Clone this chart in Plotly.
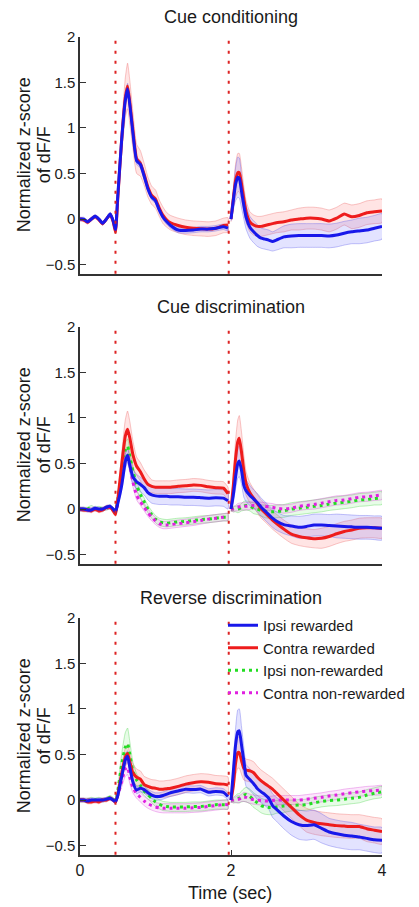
import plotly.graph_objects as go

# ---------------- data ----------------
T1 = [0.0, 0.05, 0.10, 0.15, 0.20, 0.25, 0.30, 0.35, 0.40, 0.44, 0.47, 0.50, 0.55, 0.60, 0.63, 0.66, 0.70,
      0.75, 0.80, 0.85, 0.90, 0.95, 1.00, 1.05, 1.10, 1.15, 1.20, 1.30, 1.40, 1.50, 1.60, 1.70, 1.80, 1.90, 1.96]
T2 = [2.00, 2.03, 2.06, 2.09, 2.11, 2.14, 2.17, 2.20, 2.25, 2.30, 2.35, 2.40, 2.45, 2.50, 2.55, 2.60, 2.70,
      2.80, 2.90, 3.00, 3.10, 3.20, 3.30, 3.40, 3.50, 3.60, 3.70, 3.80, 3.90, 4.00]

cue_times = [0.47, 1.97]
y_tickvals = [-0.5, 0, 0.5, 1, 1.5, 2]
y_ticktext = ["\u22120.5", "0", "0.5", "1", "1.5", "2"]
x_tickvals = [0, 2, 4]
x_ticktext = ["0", "2", "4"]
panel_titles = ["Cue conditioning", "Cue discrimination", "Reverse discrimination"]
series_names = ["Ipsi rewarded", "Contra rewarded", "Ipsi non-rewarded", "Contra non-rewarded"]

# Panel 1: Cue conditioning
cc_ipsi_rew = [0.0, 0.0, -0.03, 0.0, 0.03, 0.0, -0.045, 0.0, 0.055, -0.02, -0.12, 0.25, 0.85, 1.30, 1.43, 1.25, 0.95,
               0.64, 0.60, 0.47, 0.33, 0.24, 0.20, 0.10, 0.02, -0.03, -0.07, -0.12, -0.125, -0.12, -0.11, -0.11, -0.10, -0.085, -0.10,
               0.0, 0.2, 0.38, 0.46, 0.45, 0.30, 0.15, 0.02, -0.09, -0.14, -0.18, -0.21, -0.22, -0.23, -0.245, -0.23, -0.195,
               -0.185, -0.18, -0.18, -0.18, -0.18, -0.185, -0.175, -0.155, -0.14, -0.13, -0.12, -0.10, -0.08]
cc_ipsi_rew_sem = [0.02, 0.02, 0.02, 0.02, 0.02, 0.02, 0.02, 0.02, 0.02, 0.02, 0.02, 0.03, 0.05, 0.06, 0.06, 0.06, 0.05,
                   0.04, 0.04, 0.04, 0.03, 0.03, 0.03, 0.03, 0.03, 0.03, 0.03, 0.03, 0.03, 0.03, 0.03, 0.03, 0.03, 0.03, 0.03,
                   0.02, 0.10, 0.18, 0.22, 0.22, 0.18, 0.15, 0.13, 0.12, 0.12, 0.12, 0.11, 0.11, 0.11, 0.105, 0.11, 0.12,
                   0.13, 0.13, 0.13, 0.13, 0.13, 0.13, 0.13, 0.13, 0.13, 0.14, 0.14, 0.14, 0.14]
cc_contra_rew = [0.0, -0.01, -0.035, 0.0, 0.025, -0.005, -0.05, 0.0, 0.05, -0.03, -0.14, 0.22, 0.85, 1.33, 1.46, 1.28, 0.98,
                 0.66, 0.61, 0.49, 0.35, 0.26, 0.22, 0.12, 0.04, -0.01, -0.04, -0.07, -0.09, -0.10, -0.105, -0.11, -0.10, -0.07, -0.065,
                 0.0, 0.22, 0.42, 0.51, 0.51, 0.38, 0.22, 0.08, -0.03, -0.065, -0.08, -0.08, -0.07, -0.06, -0.05, -0.04, -0.03,
                 -0.01, 0.0, 0.01, 0.01, 0.0, -0.02, 0.01, 0.055, 0.025, 0.04, 0.07, 0.08, 0.09]
cc_contra_rew_sem = [0.02, 0.02, 0.02, 0.02, 0.02, 0.02, 0.02, 0.02, 0.02, 0.02, 0.02, 0.06, 0.15, 0.22, 0.25, 0.24, 0.20,
                     0.16, 0.14, 0.12, 0.11, 0.10, 0.10, 0.09, 0.09, 0.08, 0.08, 0.08, 0.08, 0.08, 0.08, 0.08, 0.08, 0.08, 0.08,
                     0.03, 0.10, 0.18, 0.21, 0.21, 0.18, 0.14, 0.12, 0.11, 0.11, 0.11, 0.11, 0.11, 0.11, 0.11, 0.11, 0.11,
                     0.11, 0.12, 0.12, 0.12, 0.12, 0.12, 0.12, 0.12, 0.13, 0.13, 0.13, 0.13, 0.13]

# Panel 2: Cue discrimination
cd_ipsi_rew = [0.0, 0.0, -0.01, -0.01, 0.01, 0.0, 0.0, 0.02, 0.03, 0.0, -0.03, 0.06, 0.25, 0.52, 0.59, 0.48, 0.355,
               0.30, 0.27, 0.235, 0.18, 0.155, 0.145, 0.14, 0.14, 0.14, 0.135, 0.135, 0.13, 0.13, 0.125, 0.12, 0.125, 0.12, 0.09,
               0.0, 0.15, 0.35, 0.50, 0.527, 0.42, 0.26, 0.20, 0.15, 0.11, 0.07, 0.02, -0.02, -0.06, -0.10, -0.13, -0.17,
               -0.185, -0.20, -0.19, -0.175, -0.175, -0.18, -0.185, -0.19, -0.195, -0.20, -0.20, -0.205, -0.21]
cd_ipsi_rew_sem = [0.02, 0.02, 0.02, 0.02, 0.02, 0.02, 0.02, 0.02, 0.02, 0.02, 0.02, 0.03, 0.05, 0.08, 0.08, 0.08, 0.08,
                   0.08, 0.08, 0.08, 0.08, 0.09, 0.09, 0.09, 0.09, 0.09, 0.09, 0.09, 0.09, 0.09, 0.09, 0.09, 0.09, 0.09, 0.09,
                   0.02, 0.08, 0.13, 0.16, 0.17, 0.15, 0.13, 0.12, 0.11, 0.10, 0.10, 0.10, 0.10, 0.10, 0.10, 0.10, 0.10,
                   0.11, 0.12, 0.12, 0.12, 0.12, 0.12, 0.13, 0.13, 0.13, 0.13, 0.13, 0.13, 0.13]
cd_contra_rew = [0.0, -0.01, -0.01, -0.02, 0.0, -0.02, -0.01, 0.02, 0.02, -0.02, -0.06, 0.10, 0.47, 0.80, 0.875, 0.78, 0.60,
                 0.47, 0.41, 0.33, 0.27, 0.25, 0.24, 0.24, 0.24, 0.24, 0.24, 0.25, 0.255, 0.265, 0.26, 0.245, 0.235, 0.23, 0.17,
                 0.0, 0.25, 0.55, 0.74, 0.776, 0.62, 0.42, 0.28, 0.18, 0.12, 0.06, 0.0, -0.04, -0.08, -0.12, -0.155, -0.22,
                 -0.275, -0.30, -0.315, -0.325, -0.32, -0.30, -0.27, -0.245, -0.23, -0.21, -0.205, -0.205, -0.21]
cd_contra_rew_sem = [0.02, 0.02, 0.02, 0.02, 0.02, 0.02, 0.02, 0.02, 0.02, 0.02, 0.02, 0.05, 0.12, 0.18, 0.20, 0.18, 0.15,
                     0.10, 0.10, 0.10, 0.10, 0.07, 0.07, 0.07, 0.07, 0.07, 0.07, 0.07, 0.07, 0.07, 0.07, 0.07, 0.07, 0.07, 0.07,
                     0.03, 0.12, 0.20, 0.24, 0.25, 0.22, 0.17, 0.13, 0.11, 0.10, 0.10, 0.10, 0.10, 0.10, 0.10, 0.10, 0.10,
                     0.10, 0.10, 0.10, 0.10, 0.11, 0.11, 0.11, 0.11, 0.11, 0.11, 0.11, 0.11, 0.11]
cd_ipsi_nonrew = [0.0, 0.0, 0.0, 0.02, 0.0, 0.01, 0.0, 0.01, 0.02, 0.0, -0.02, 0.10, 0.40, 0.65, 0.69, 0.58, 0.42,
                  0.26, 0.16, 0.08, 0.0, -0.06, -0.11, -0.14, -0.15, -0.155, -0.15, -0.14, -0.135, -0.125, -0.115, -0.11, -0.10, -0.09, -0.09,
                  0.0, 0.0, 0.0, 0.0, 0.005, 0.02, 0.035, 0.04, 0.03, 0.01, 0.0, -0.015, -0.025, -0.03, -0.03, -0.025, -0.02,
                  0.0, 0.01, 0.02, 0.03, 0.04, 0.055, 0.065, 0.075, 0.085, 0.10, 0.105, 0.115, 0.12]
cd_ipsi_nonrew_sem = [0.02, 0.02, 0.02, 0.02, 0.02, 0.02, 0.02, 0.02, 0.02, 0.02, 0.02, 0.03, 0.06, 0.08, 0.08, 0.07, 0.06,
                      0.05, 0.04, 0.04, 0.04, 0.04, 0.04, 0.04, 0.04, 0.04, 0.04, 0.04, 0.04, 0.04, 0.04, 0.04, 0.04, 0.04, 0.04,
                      0.02, 0.03, 0.03, 0.04, 0.04, 0.04, 0.05, 0.05, 0.05, 0.06, 0.06, 0.06, 0.07, 0.07, 0.07, 0.07, 0.07,
                      0.07, 0.07, 0.07, 0.07, 0.07, 0.07, 0.07, 0.07, 0.07, 0.07, 0.07, 0.07, 0.07]
cd_contra_nonrew = [0.0, 0.0, -0.01, 0.0, 0.0, -0.01, 0.0, 0.01, 0.02, 0.0, -0.03, 0.08, 0.32, 0.55, 0.60, 0.48, 0.30,
                    0.15, 0.08, 0.02, -0.04, -0.09, -0.13, -0.16, -0.175, -0.175, -0.17, -0.16, -0.15, -0.14, -0.125, -0.11, -0.10, -0.09, -0.085,
                    0.0, 0.0, 0.01, 0.02, 0.025, 0.03, 0.03, 0.03, 0.035, 0.04, 0.04, 0.035, 0.03, 0.025, 0.02, 0.01, 0.0,
                    0.01, 0.03, 0.04, 0.05, 0.065, 0.08, 0.095, 0.10, 0.115, 0.13, 0.135, 0.145, 0.155]
cd_contra_nonrew_sem = [0.02, 0.02, 0.02, 0.02, 0.02, 0.02, 0.02, 0.02, 0.02, 0.02, 0.02, 0.03, 0.05, 0.07, 0.07, 0.06, 0.05,
                        0.05, 0.04, 0.04, 0.04, 0.04, 0.04, 0.04, 0.04, 0.04, 0.04, 0.04, 0.04, 0.04, 0.04, 0.04, 0.04, 0.04, 0.04,
                        0.02, 0.03, 0.03, 0.04, 0.04, 0.04, 0.04, 0.04, 0.04, 0.04, 0.04, 0.04, 0.04, 0.04, 0.04, 0.04, 0.045,
                        0.045, 0.045, 0.045, 0.05, 0.05, 0.05, 0.05, 0.05, 0.05, 0.05, 0.05, 0.05, 0.05]

# Panel 3: Reverse discrimination
rd_ipsi_rew = [0.0, 0.0, -0.01, 0.0, 0.0, 0.0, 0.0, 0.01, 0.02, 0.0, -0.02, 0.05, 0.25, 0.44, 0.48, 0.36, 0.20,
               0.11, 0.13, 0.115, 0.08, 0.055, 0.04, 0.04, 0.05, 0.065, 0.08, 0.10, 0.12, 0.115, 0.12, 0.085, 0.095, 0.085, 0.04,
               0.0, 0.30, 0.60, 0.75, 0.76, 0.60, 0.43, 0.27, 0.225, 0.18, 0.125, 0.09, 0.06, 0.02, -0.06, -0.10, -0.175,
               -0.235, -0.27, -0.28, -0.27, -0.31, -0.35, -0.37, -0.385, -0.395, -0.405, -0.42, -0.435, -0.44]
rd_ipsi_rew_sem = [0.02, 0.02, 0.02, 0.02, 0.02, 0.02, 0.02, 0.02, 0.02, 0.02, 0.02, 0.03, 0.05, 0.06, 0.06, 0.05, 0.04,
                   0.04, 0.04, 0.04, 0.04, 0.04, 0.04, 0.04, 0.04, 0.04, 0.04, 0.04, 0.04, 0.04, 0.04, 0.04, 0.04, 0.04, 0.04,
                   0.03, 0.10, 0.18, 0.24, 0.24, 0.20, 0.15, 0.12, 0.12, 0.12, 0.12, 0.12, 0.12, 0.12, 0.13, 0.13, 0.14,
                   0.15, 0.16, 0.16, 0.16, 0.16, 0.15, 0.15, 0.15, 0.15, 0.14, 0.14, 0.14, 0.14]
rd_contra_rew = [0.0, 0.0, -0.02, -0.02, -0.01, -0.02, 0.0, 0.0, 0.02, 0.0, -0.02, 0.06, 0.28, 0.47, 0.51, 0.42, 0.30,
                 0.25, 0.23, 0.17, 0.15, 0.135, 0.13, 0.12, 0.12, 0.125, 0.13, 0.15, 0.175, 0.19, 0.20, 0.195, 0.18, 0.175, 0.165,
                 0.0, 0.15, 0.40, 0.52, 0.52, 0.43, 0.35, 0.33, 0.32, 0.30, 0.25, 0.21, 0.18, 0.15, 0.12, 0.08, 0.0,
                 -0.08, -0.16, -0.22, -0.245, -0.26, -0.27, -0.28, -0.285, -0.29, -0.29, -0.315, -0.33, -0.345]
rd_contra_rew_sem = [0.02, 0.02, 0.02, 0.02, 0.02, 0.02, 0.02, 0.02, 0.02, 0.02, 0.02, 0.04, 0.08, 0.10, 0.10, 0.10, 0.10,
                     0.09, 0.09, 0.09, 0.09, 0.09, 0.09, 0.09, 0.09, 0.09, 0.09, 0.09, 0.09, 0.09, 0.09, 0.09, 0.09, 0.09, 0.09,
                     0.03, 0.08, 0.14, 0.17, 0.17, 0.15, 0.13, 0.12, 0.12, 0.12, 0.12, 0.12, 0.12, 0.12, 0.12, 0.12, 0.12,
                     0.12, 0.12, 0.13, 0.13, 0.13, 0.13, 0.13, 0.13, 0.13, 0.13, 0.14, 0.14, 0.14]
rd_ipsi_nonrew = [0.0, 0.0, 0.0, 0.01, 0.0, 0.01, 0.0, 0.01, 0.03, 0.01, -0.01, 0.10, 0.38, 0.58, 0.62, 0.50, 0.32,
                  0.22, 0.16, 0.10, 0.06, 0.02, -0.02, -0.045, -0.065, -0.07, -0.075, -0.075, -0.075, -0.07, -0.07, -0.06, -0.05, -0.05, -0.05,
                  0.0, 0.0, 0.01, 0.02, 0.02, 0.04, 0.055, 0.06, 0.04, 0.0, -0.03, -0.06, -0.075, -0.08, -0.08, -0.075, -0.065,
                  -0.06, -0.055, -0.05, -0.03, -0.015, -0.005, 0.0, 0.01, 0.02, 0.03, 0.055, 0.075, 0.09]
rd_ipsi_nonrew_sem = [0.02, 0.02, 0.02, 0.02, 0.02, 0.02, 0.02, 0.02, 0.02, 0.02, 0.02, 0.04, 0.12, 0.16, 0.17, 0.14, 0.10,
                      0.07, 0.06, 0.05, 0.05, 0.05, 0.05, 0.05, 0.05, 0.05, 0.05, 0.05, 0.05, 0.05, 0.05, 0.05, 0.05, 0.05, 0.05,
                      0.02, 0.03, 0.04, 0.05, 0.05, 0.06, 0.07, 0.08, 0.08, 0.08, 0.08, 0.08, 0.08, 0.08, 0.08, 0.07, 0.07,
                      0.06, 0.06, 0.06, 0.06, 0.06, 0.06, 0.06, 0.06, 0.06, 0.06, 0.06, 0.06, 0.06]
rd_contra_nonrew = [0.0, 0.0, 0.0, 0.0, -0.01, 0.0, 0.0, 0.01, 0.02, 0.0, -0.02, 0.05, 0.20, 0.34, 0.36, 0.25, 0.14,
                    0.07, 0.03, -0.01, -0.04, -0.06, -0.075, -0.085, -0.09, -0.09, -0.09, -0.09, -0.09, -0.085, -0.08, -0.07, -0.06, -0.05, -0.05,
                    0.0, 0.0, 0.005, 0.01, 0.01, 0.025, 0.035, 0.03, 0.015, 0.005, 0.0, -0.005, -0.01, -0.01, -0.005, 0.0, 0.0,
                    0.0, 0.0, 0.01, 0.02, 0.03, 0.045, 0.055, 0.07, 0.08, 0.09, 0.10, 0.105, 0.11]
rd_contra_nonrew_sem = [0.02, 0.02, 0.02, 0.02, 0.02, 0.02, 0.02, 0.02, 0.02, 0.02, 0.02, 0.03, 0.06, 0.08, 0.08, 0.07, 0.06,
                        0.05, 0.05, 0.05, 0.05, 0.05, 0.05, 0.05, 0.05, 0.05, 0.05, 0.05, 0.05, 0.05, 0.05, 0.05, 0.05, 0.05, 0.05,
                        0.02, 0.03, 0.03, 0.04, 0.04, 0.04, 0.05, 0.05, 0.05, 0.05, 0.05, 0.05, 0.05, 0.05, 0.05, 0.05, 0.05,
                        0.05, 0.05, 0.05, 0.05, 0.05, 0.05, 0.05, 0.05, 0.05, 0.05, 0.05, 0.05, 0.05]

# ---------------- layout constants ----------------
FONT = "Liberation Sans, Arial, Helvetica, sans-serif"
TXT = "#1a1a1a"
W, H = 419, 907
ML, MR = 80, 37
PW = W - ML - MR
panel_px = [(36.7, 273.8), (326.7, 563.8), (617.7, 854.8)]

styles = {
    "Ipsi rewarded": dict(color="#1818ea", dash="solid", width=3,
                          band="rgba(80,80,255,0.16)", edge="rgba(90,90,235,0.45)"),
    "Contra rewarded": dict(color="#ee1c1c", dash="solid", width=3,
                            band="rgba(255,90,90,0.16)", edge="rgba(235,100,100,0.45)"),
    "Ipsi non-rewarded": dict(color="#22dd22", dash="3px,4px", width=3,
                              band="rgba(70,230,70,0.13)", edge="rgba(70,210,70,0.45)"),
    "Contra non-rewarded": dict(color="#e020e0", dash="3px,4px", width=3,
                                band="rgba(235,70,235,0.13)", edge="rgba(215,70,215,0.45)"),
}

panels = [
    [("Contra rewarded", cc_contra_rew, cc_contra_rew_sem),
     ("Ipsi rewarded", cc_ipsi_rew, cc_ipsi_rew_sem)],
    [("Ipsi non-rewarded", cd_ipsi_nonrew, cd_ipsi_nonrew_sem),
     ("Contra non-rewarded", cd_contra_nonrew, cd_contra_nonrew_sem),
     ("Contra rewarded", cd_contra_rew, cd_contra_rew_sem),
     ("Ipsi rewarded", cd_ipsi_rew, cd_ipsi_rew_sem)],
    [("Ipsi non-rewarded", rd_ipsi_nonrew, rd_ipsi_nonrew_sem),
     ("Contra non-rewarded", rd_contra_nonrew, rd_contra_nonrew_sem),
     ("Contra rewarded", rd_contra_rew, rd_contra_rew_sem),
     ("Ipsi rewarded", rd_ipsi_rew, rd_ipsi_rew_sem)],
]

n1 = len(T1)
for p in panels:
    for name, m, s in p:
        assert len(m) == n1 + len(T2), (name, len(m))
        assert len(s) == n1 + len(T2), (name, "sem", len(s))

X_LINE = T1 + [None] + T2


def line_y(vals):
    return vals[:n1] + [None] + vals[n1:]


def band_xy(m, s):
    xs, ys = [], []
    for T, mm, ss in ((T1, m[:n1], s[:n1]), (T2, m[n1:], s[n1:])):
        if xs:
            xs.append(None)
            ys.append(None)
        up = [a + b for a, b in zip(mm, ss)]
        lo = [a - b for a, b in zip(mm, ss)]
        xs += T + T[::-1]
        ys += up + lo[::-1]
    return xs, ys


fig = go.Figure()
for pi, p in enumerate(panels):
    xa = "x" if pi == 0 else f"x{pi + 1}"
    ya = "y" if pi == 0 else f"y{pi + 1}"
    for name, m, s in p:
        st = styles[name]
        bx, by = band_xy(m, s)
        fig.add_trace(go.Scatter(x=bx, y=by, xaxis=xa, yaxis=ya, mode="lines", fill="toself",
                                 fillcolor=st["band"], line=dict(color=st["edge"], width=0.8, shape="spline", smoothing=0.5),
                                 showlegend=False, hoverinfo="skip"))
    for name, m, s in p:
        st = styles[name]
        fig.add_trace(go.Scatter(x=X_LINE, y=line_y(m), xaxis=xa, yaxis=ya, mode="lines", name=name,
                                 line=dict(color=st["color"], width=st["width"], dash=st["dash"],
                                           shape="spline", smoothing=0.5),
                                 showlegend=(pi == 2), legendrank=series_names.index(name) + 1))

layout = dict(
    width=W, height=H, autosize=False,
    margin=dict(l=ML, r=MR, t=0, b=0, pad=0),
    paper_bgcolor="white", plot_bgcolor="white",
    font=dict(family=FONT, color=TXT, size=15),
    showlegend=True,
    legend=dict(x=(223 - ML) / PW, y=1 - 609 / H, xanchor="left", yanchor="top",
                font=dict(size=15, family=FONT, color=TXT), bgcolor="rgba(0,0,0,0)",
                itemwidth=30, tracegroupgap=0),
)

annotations = []
shapes = []
for pi in range(3):
    top, bot = panel_px[pi]
    suffix = "" if pi == 0 else str(pi + 1)
    dom = [1 - bot / H, 1 - top / H]
    layout[f"yaxis{suffix}"] = dict(
        domain=dom, range=[-0.6, 2], anchor=f"x{suffix}", tickvals=y_tickvals, ticktext=y_ticktext,
        ticks="inside", ticklen=6, tickwidth=1.3, tickcolor="#333", showline=True, linecolor="#333",
        linewidth=1.5, showgrid=False, zeroline=False, tickfont=dict(size=15, family=FONT, color=TXT),
        automargin=False, fixedrange=True)
    layout[f"xaxis{suffix}"] = dict(
        domain=[0, 1], range=[0, 4], anchor=f"y{suffix}", showline=True, linecolor="#333", linewidth=1.5,
        showgrid=False, zeroline=False, automargin=False, fixedrange=True,
        tickvals=x_tickvals, ticktext=x_ticktext,
        ticks="inside" if pi == 2 else "", ticklen=5, tickcolor="#333",
        showticklabels=(pi == 2), tickfont=dict(size=16, family=FONT, color=TXT))
    for ct in cue_times:
        shapes.append(dict(type="line", xref=f"x{suffix}", yref=f"y{suffix} domain", x0=ct, x1=ct, y0=0, y1=1,
                           line=dict(color="#dd2222", width=2, dash="3px,7px"), layer="above"))
    # panel title
    annotations.append(dict(text=panel_titles[pi], xref="paper", yref="paper", x=0.5, y=1 - (top - 19.5) / H,
                            xanchor="center", yanchor="middle", showarrow=False,
                            font=dict(size=18, family=FONT, color=TXT)))
    # y-axis label (two lines)
    cy = 1 - (top + bot) / 2 / H
    annotations.append(dict(text="Normalized z-score", xref="paper", yref="paper", x=(24 - ML) / PW, y=cy,
                            xanchor="center", yanchor="middle", textangle=-90, showarrow=False,
                            font=dict(size=18, family=FONT, color=TXT)))
    annotations.append(dict(text="of dF/F", xref="paper", yref="paper", x=(44 - ML) / PW, y=cy,
                            xanchor="center", yanchor="middle", textangle=-90, showarrow=False,
                            font=dict(size=18, family=FONT, color=TXT)))

annotations.append(dict(text="Time (sec)", xref="paper", yref="paper", x=(230 - ML) / PW, y=1 - 893 / H,
                        xanchor="center", yanchor="middle", showarrow=False,
                        font=dict(size=18, family=FONT, color=TXT)))

layout["annotations"] = annotations
layout["shapes"] = shapes
fig.update_layout(**layout)
fig.write_html("out.html", config={"displayModeBar": False, "staticPlot": False},
               post_script="document.body.style.margin='0';document.body.style.padding='0';"
                           "document.body.style.overflow='hidden';")
